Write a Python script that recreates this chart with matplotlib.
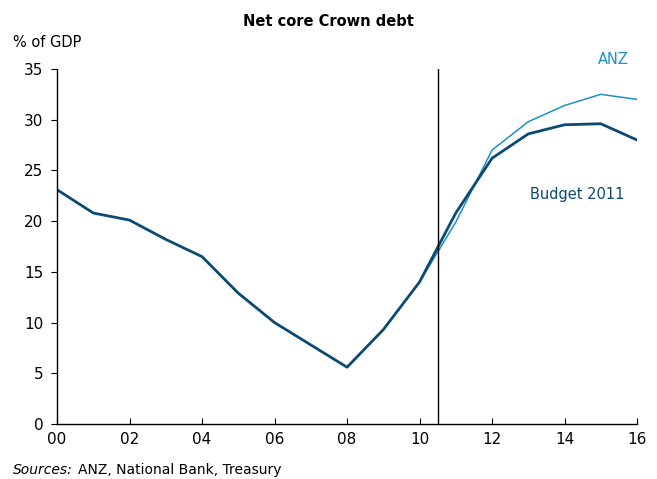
import matplotlib
matplotlib.use("Agg")
import matplotlib.pyplot as plt

# Datos
years_budget = [0, 1, 2, 3, 4, 5, 6, 7, 8, 9, 10, 11, 12, 13, 14, 15, 16]
budget = [23.1, 20.8, 20.1, 18.2, 16.5, 12.9, 10.0, 7.8, 5.6, 9.3, 14.0,
          20.8, 26.2, 28.6, 29.5, 29.6, 28.0]
years_anz = [10, 11, 12, 13, 14, 15, 16]
anz = [14.0, 19.9, 27.0, 29.8, 31.4, 32.5, 32.0]

x_ticks = [0, 2, 4, 6, 8, 10, 12, 14, 16]
x_labels = ["00", "02", "04", "06", "08", "10", "12", "14", "16"]
y_ticks = [0, 5, 10, 15, 20, 25, 30, 35]

col_budget = "#0b4a73"
col_anz = "#1e8fc8"

fig = plt.figure(figsize=(6.57, 4.79), dpi=100)
ax = fig.add_axes([0.0868, 0.1148, 0.8828, 0.7412])

ax.plot(years_anz, anz, color=col_anz, lw=1.1)
ax.plot(years_budget, budget, color=col_budget, lw=2.0)
ax.axvline(10.5, color="black", lw=1.0)

ax.set_xlim(0, 16)
ax.set_ylim(0, 35)
ax.set_xticks(x_ticks)
ax.set_xticklabels(x_labels)
ax.set_yticks(y_ticks)

for s in ["top", "right"]:
    ax.spines[s].set_visible(False)
ax.spines["left"].set_linewidth(1.0)
ax.spines["bottom"].set_linewidth(1.0)
ax.tick_params(axis="x", direction="in", length=4, labelsize=11, pad=6)
ax.tick_params(axis="y", direction="out", length=4, labelsize=11, pad=6)

ax.text(15.35, 35.9, "ANZ", color=col_anz, fontsize=10.5, ha="center",
        va="center")
ax.text(14.35, 22.6, "Budget 2011", color=col_budget, fontsize=10.5,
        ha="center", va="center")

fig.text(0.5, 0.955, "Net core Crown debt", ha="center", va="center",
         fontsize=10.5, fontweight="bold")
fig.text(0.02, 0.912, "% of GDP", ha="left", va="center", fontsize=10.5)
fig.text(0.02, 0.018, "Sources:", ha="left", va="center", fontsize=10,
         style="italic")
fig.text(0.118, 0.018, "ANZ, National Bank, Treasury", ha="left",
         va="center", fontsize=10)

fig.savefig("out.png", dpi=100)
